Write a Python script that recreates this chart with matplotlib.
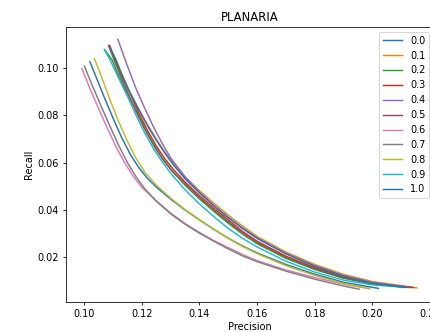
import matplotlib
matplotlib.use("Agg")
import matplotlib.pyplot as plt

labels = ["0.0", "0.1", "0.2", "0.3", "0.4", "0.5", "0.6", "0.7", "0.8", "0.9", "1.0"]

prec_00 = [0.1020, 0.1045, 0.1070, 0.1100, 0.1130, 0.1160, 0.1190, 0.1220, 0.1250, 0.1300,
           0.1350, 0.1400, 0.1450, 0.1500, 0.1550, 0.1600, 0.1700, 0.1800, 0.1900, 0.2021]
rec_00 = [0.1025, 0.0950, 0.0875, 0.0788, 0.0706, 0.0635, 0.0578, 0.0533, 0.0497, 0.0446,
          0.0400, 0.0358, 0.0318, 0.0281, 0.0248, 0.0219, 0.0170, 0.0129, 0.0095, 0.0069]

prec_01 = [0.1090, 0.1110, 0.1130, 0.1160, 0.1190, 0.1220, 0.1250, 0.1280, 0.1310, 0.1350,
           0.1400, 0.1450, 0.1500, 0.1550, 0.1600, 0.1700, 0.1800, 0.1900, 0.2000, 0.2154]
rec_01 = [0.1087, 0.1023, 0.0965, 0.0892, 0.0825, 0.0760, 0.0700, 0.0645, 0.0596, 0.0540,
          0.0481, 0.0428, 0.0378, 0.0331, 0.0288, 0.0222, 0.0170, 0.0128, 0.0098, 0.0071]

prec_02 = [0.1072, 0.1097, 0.1120, 0.1150, 0.1180, 0.1210, 0.1240, 0.1270, 0.1300, 0.1350,
           0.1400, 0.1450, 0.1500, 0.1550, 0.1600, 0.1700, 0.1800, 0.1900, 0.2000, 0.2124]
rec_02 = [0.1075, 0.1033, 0.0965, 0.0890, 0.0821, 0.0745, 0.0678, 0.0620, 0.0572, 0.0505,
          0.0447, 0.0394, 0.0344, 0.0298, 0.0258, 0.0196, 0.0149, 0.0112, 0.0088, 0.0073]

prec_03 = [0.1088, 0.1108, 0.1130, 0.1160, 0.1190, 0.1220, 0.1250, 0.1280, 0.1310, 0.1350,
           0.1400, 0.1450, 0.1500, 0.1550, 0.1600, 0.1700, 0.1800, 0.1900, 0.2000, 0.2142]
rec_03 = [0.1095, 0.1033, 0.0970, 0.0890, 0.0808, 0.0735, 0.0670, 0.0616, 0.0570, 0.0518,
          0.0460, 0.0408, 0.0358, 0.0309, 0.0268, 0.0205, 0.0157, 0.0118, 0.0092, 0.0073]

prec_04 = [0.1117, 0.1130, 0.1150, 0.1180, 0.1210, 0.1240, 0.1270, 0.1300, 0.1350, 0.1400,
           0.1450, 0.1500, 0.1550, 0.1600, 0.1700, 0.1800, 0.1900, 0.2000, 0.2131]
rec_04 = [0.1120, 0.1075, 0.1008, 0.0912, 0.0830, 0.0752, 0.0683, 0.0620, 0.0540, 0.0474,
          0.0418, 0.0368, 0.0322, 0.0282, 0.0216, 0.0164, 0.0123, 0.0094, 0.0073]

prec_05 = [0.1085, 0.1104, 0.1125, 0.1155, 0.1185, 0.1215, 0.1245, 0.1275, 0.1305, 0.1350,
           0.1400, 0.1450, 0.1500, 0.1550, 0.1600, 0.1700, 0.1800, 0.1900, 0.2000, 0.2135]
rec_05 = [0.1093, 0.1033, 0.0968, 0.0885, 0.0803, 0.0730, 0.0665, 0.0610, 0.0564, 0.0510,
          0.0452, 0.0400, 0.0350, 0.0302, 0.0262, 0.0200, 0.0152, 0.0114, 0.0089, 0.0073]

prec_06 = [0.0992, 0.1020, 0.1050, 0.1080, 0.1110, 0.1140, 0.1170, 0.1200, 0.1250, 0.1300,
           0.1350, 0.1400, 0.1450, 0.1500, 0.1550, 0.1600, 0.1700, 0.1800, 0.1900, 0.1988]
rec_06 = [0.0997, 0.0912, 0.0828, 0.0746, 0.0668, 0.0600, 0.0543, 0.0495, 0.0440, 0.0387,
          0.0343, 0.0305, 0.0271, 0.0241, 0.0212, 0.0186, 0.0147, 0.0115, 0.0087, 0.0068]

prec_07 = [0.1001, 0.1030, 0.1060, 0.1090, 0.1120, 0.1150, 0.1180, 0.1210, 0.1250, 0.1300,
           0.1350, 0.1400, 0.1450, 0.1500, 0.1550, 0.1600, 0.1700, 0.1800, 0.1900, 0.1954]
rec_07 = [0.1007, 0.0920, 0.0835, 0.0752, 0.0672, 0.0600, 0.0540, 0.0490, 0.0437, 0.0384,
          0.0340, 0.0302, 0.0268, 0.0236, 0.0206, 0.0182, 0.0142, 0.0108, 0.0079, 0.0066]

prec_08 = [0.1035, 0.1050, 0.1070, 0.1090, 0.1120, 0.1150, 0.1180, 0.1210, 0.1250, 0.1300,
           0.1350, 0.1400, 0.1450, 0.1500, 0.1550, 0.1600, 0.1700, 0.1800, 0.1900, 0.1992]
rec_08 = [0.1039, 0.0995, 0.0930, 0.0863, 0.0772, 0.0690, 0.0618, 0.0560, 0.0505, 0.0450,
          0.0402, 0.0359, 0.0318, 0.0280, 0.0246, 0.0216, 0.0165, 0.0124, 0.0090, 0.0068]

prec_09 = [0.1070, 0.1090, 0.1120, 0.1150, 0.1180, 0.1210, 0.1240, 0.1270, 0.1300, 0.1350,
           0.1400, 0.1450, 0.1500, 0.1550, 0.1600, 0.1700, 0.1800, 0.1900, 0.2000, 0.2108]
rec_09 = [0.1077, 0.1033, 0.0955, 0.0880, 0.0800, 0.0725, 0.0660, 0.0605, 0.0555, 0.0485,
          0.0425, 0.0372, 0.0322, 0.0280, 0.0244, 0.0184, 0.0138, 0.0104, 0.0084, 0.0074]

prec_10 = [0.1087, 0.1111, 0.1130, 0.1160, 0.1190, 0.1220, 0.1250, 0.1280, 0.1310, 0.1350,
           0.1400, 0.1450, 0.1500, 0.1550, 0.1600, 0.1700, 0.1800, 0.1900, 0.2000, 0.2114]
rec_10 = [0.1090, 0.1033, 0.0975, 0.0893, 0.0822, 0.0755, 0.0695, 0.0640, 0.0590, 0.0532,
          0.0472, 0.0418, 0.0368, 0.0322, 0.0280, 0.0215, 0.0163, 0.0121, 0.0091, 0.0073]

precisions = [prec_00, prec_01, prec_02, prec_03, prec_04, prec_05,
              prec_06, prec_07, prec_08, prec_09, prec_10]
recalls = [rec_00, rec_01, rec_02, rec_03, rec_04, rec_05,
           rec_06, rec_07, rec_08, rec_09, rec_10]

fig = plt.figure(figsize=(430 / 70, 332 / 70), dpi=70)
ax = fig.add_axes([65.7 / 430, 30.3 / 332, 368.6 / 430, 274.7 / 332])

for p, r, lab in zip(precisions, recalls, labels):
    ax.plot(p, r, label=lab)

ax.set_xlim(0.0936, 0.2215)
ax.set_ylim(0.0013, 0.1172)
ax.set_xticks([0.10, 0.12, 0.14, 0.16, 0.18, 0.20, 0.22])
ax.set_yticks([0.02, 0.04, 0.06, 0.08, 0.10])
ax.set_xlabel("Precision")
ax.set_ylabel("Recall")
ax.set_title("PLANARIA")
ax.legend(loc="upper right")

fig.savefig("out.png", dpi=70)
